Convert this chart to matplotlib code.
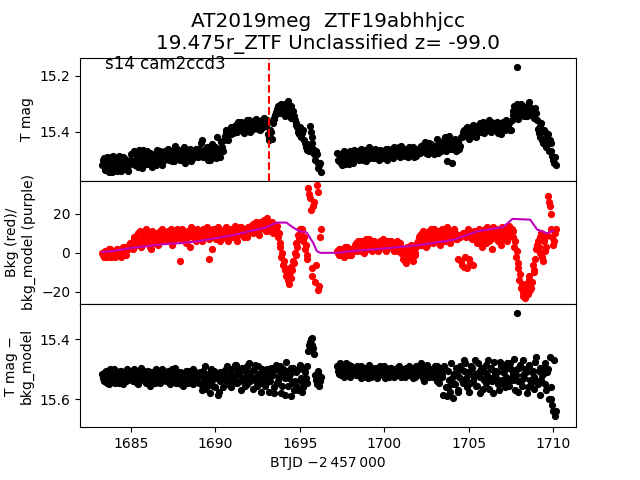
import numpy as np
import matplotlib
matplotlib.use("Agg")
import matplotlib.pyplot as plt

# time span of the two orbits (BTJD - 2457000), regular cadence
t1_start, t1_end = 1683.3, 1696.2
t2_start, t2_end = 1697.2, 1710.1
half_step = 0.05  # second set of cadences sits between the first

# T mag, in millimag above 15.0
top1 = [520, 495, 530, 505, 545, 490, 515, 535, 500, 525, 485, 540, 510, 495, 530, 505, 520,
        480, 510, 470, 500, 525, 485, 505, 465, 495, 515, 490, 475, 510, 500, 480, 520, 495, 470, 505, 490,
        470, 495, 460, 485, 505, 475, 450, 490, 480, 500, 465, 485, 510, 470, 490, 460, 480, 495, 475, 485,
        460, 485, 430, 475, 490, 455, 470, 500, 445, 480, 465, 420, 475, 490, 455,
        430, 405, 420, 395, 410, 390,
        395, 375, 400, 380, 365, 390, 405, 370, 385, 360, 395, 375, 380, 355, 390, 370, 365, 385, 350, 375,
        410, 430, 400,
        370, 350, 330, 310, 335, 300, 320, 345, 315, 290, 330, 350, 325, 360,
        370, 400, 385, 420, 395,
        440, 465, 450,
        380, 420, 460, 500, 480,
        530, 510]
top1b = [500, 535, 490, 525, 510, 545, 485, 520, 540, 495, 515, 530, 490, 525, 505, 540, 500,
         505, 475, 520, 490, 465, 510, 530, 480, 500, 470, 515, 495, 525, 480, 505, 465, 510, 485, 520, 500,
         490, 465, 500, 470, 480, 505, 485, 460, 495, 475, 500, 455, 480, 495, 465, 505, 470, 485, 460, 490,
         475, 440, 490, 465, 480, 500, 460, 485, 470, 455, 495, 480, 460, 435, 470,
         415, 395, 430, 400, 385, 405,
         380, 400, 365, 390, 385, 370, 395, 360, 380, 400, 370, 390, 360, 385, 375, 395, 360, 375, 380, 360,
         420, 395, 425,
         355, 340, 320, 325, 305, 330, 310, 300, 335, 320, 310, 340, 345, 375,
         385, 410, 395, 405, 430,
         455, 445, 470,
         400, 440, 480, 470, 510,
         520, 545]
top2 = [475, 505, 490, 520, 470, 500, 485, 515, 480, 495,
        465, 490, 475, 500, 460, 485, 470, 505, 480, 455, 490, 475, 495, 465, 485, 500, 470, 480, 490, 460,
        460, 480, 470, 495, 455, 475, 465, 485, 450, 470, 480, 460, 490, 465, 475, 455, 470, 485, 460, 475,
        450, 470, 435, 465, 480, 455, 445, 470, 460, 425, 475, 455,
        440, 460, 420, 505, 450, 435, 510, 445, 425, 465, 430, 450,
        420, 395, 410, 385, 425, 400, 390, 415, 380, 405,
        395, 370, 390, 405, 375, 385, 360, 400, 380, 370, 395, 365, 385, 410, 375, 390, 360, 380, 370, 395,
        340, 310, 330, 355, 320, 300, 335, 345, 315, 330, 295, 340, 325, 350, 335,
        390, 420, 370, 440, 400, 455, 410, 430,
        470, 500, 490]
top2b = [500, 480, 510, 490, 515, 485, 505, 470, 500, 510,
         485, 470, 495, 480, 475, 500, 465, 490, 475, 495, 470, 485, 460, 490, 475, 465, 495, 470, 485, 500,
         475, 465, 490, 460, 480, 470, 455, 490, 475, 465, 485, 470, 455, 480, 465, 490, 460, 475, 470, 465,
         465, 445, 475, 455, 440, 470, 460, 480, 450, 465, 440, 470,
         455, 430, 470, 445, 415, 460, 440, 455, 470, 435, 460, 420,
         400, 415, 390, 420, 395, 410, 375, 400, 420, 390,
         380, 400, 365, 385, 375, 395, 380, 365, 390, 375, 380, 405, 370, 380, 365, 395, 385, 375, 395, 360,
         325, 345, 300, 335, 315, 340, 310, 325, 345, 310, 330, 320, 345, 315, 360,
         405, 380, 430, 395, 445, 420, 470, 440,
         485, 510, 520]

# background flux (red), middle panel
bkg1 = [0, -2, 1, -1, 2, -2, 0, 1, -1, 2, 0, -2, 1, 3, -1, 2, 4,
        5, 2, 8, 4, 10, 6, 3, 9, 7, 12, 5, 8, 2, 10, 6, 9, 4, 11, 7, 8,
        9, 6, 11, 8, 4, 10, 7, 12, 9, -4, 8, 11, 6, 10, 8, 3, 11, 9, 7, 12,
        8, 10, 6, 11, 9, 13, 7, 10, 2, 9, 12, 8, 11, 6, 10, 9, 13, 7, 11, 10,
        8, 12, 9, 6, 11, 13, 10, 8, 12, 9,
        11, 14, 10, 13, 16, 12, 9, 14, 13, 17, 11, 15, 12, 14, 10, 13,
        12, 8, 3, -2, -6, -9, -12, -14, -10, -7, -4, 0, 5, 9, 12,
        10, 6, 2, -3,
        33, 28, -8, 24, -15, 35, -19, 8]
bkg1b = [-1, 1, -2, 0, 2, -1, 1, -2, 2, 0, -1, 1, 3, 0, 2, 3, 5,
         3, 7, 5, 9, 6, 11, 4, 8, 10, 6, 9, 3, 11, 7, 5, 10, 8, 6, 12, 9,
         7, 10, 8, 12, 6, 9, 11, 8, 10, 7, 12, 9, 5, 11, 9, 13, 8, 10, 6, 9,
         11, 7, 12, 10, 8, 11, -3, 9, 12, 10, 7, 13, 9, 11, 8, 12, 10, 6, 9, 12,
         11, 14, 8, 10, 13, 9, 12, 11, 8, 13,
         13, 11, 15, 12, 14, 10, 16, 13, 12, 15, 18, 13, 11, 16, 14, 12,
         14, 10, 5, 0, -4, -8, -10, -16, -13, -9, -5, -1, 3, 7, 11,
         12, 8, 4, -1,
         30, 22, -12, 26, -6, 31, -17, 12]
bkg2 = [1, -1, 2, 0, -2, 1, 3, -1, 0, 2,
        2, 5, 1, 4, 6, 3, 0, 5, 2, 7, 4, 1, 6, 3, 5, 2, 4, 7, 3, 1, 5, 4, 6, 2, 3, 5, 1, 4,
        0, -3, 2, -5, 1, -2, 4, -4, 0, 3,
        6, 9, 4, 11, 7, 3, 10, 8, 12, 5, 9, 7, 11, 4, 8, 10, 6, 13, 9, 5, 11, 8, 10, 7,
        -3, 8, -6, 10, -2, -8, 9, -5, 7, 11,
        9, 5, 12, 7, 3, 10, 8, 13, 6, 11, 2, 9, 12, 7, 10, 4, 13, 8, 11, 6, 14, 9,
        8, 3, -2, -8, -14, -18, -22, -20, -16, -21, -12, -18, -6, -10, 2,
        6, 0, 10, -4, 8, 3,
        29, 24, 12, 4, 10]
bkg2b = [0, 2, -1, 1, 3, -1, 1, 2, -1, 1,
         4, 2, 6, 3, 1, 5, 3, 7, 4, 2, 5, 6, 3, 4, 1, 6, 5, 3, 2, 4, 6, 3, 5, 1, 4, 6, 3, 5,
         2, -1, -4, 3, -2, 1, -3, 2, -1, 5,
         8, 5, 10, 7, 9, 4, 11, 6, 9, 12, 7, 10, 5, 8, 12, 9, 7, 10, 6, 11, 9, 12, 7, 9,
         9, -4, 10, -7, 8, 12, -3, 10, -6, 9,
         7, 11, 6, 10, 8, 12, 5, 9, 11, 7, 13, 8, 10, 6, 12, 9, 7, 11, 13, 8, 10, 12,
         11, 6, 1, -5, -11, -16, -20, -23, -18, -14, -19, -15, -9, -3, 4,
         3, 8, -2, 6, 1, 9,
         26, 20, 8, 6, 12]

# background model (purple)
model_t = [1683.3, 1684.0, 1685.0, 1686.0, 1687.0, 1688.0, 1689.0, 1690.0, 1691.0, 1692.0,
           1693.0, 1693.6, 1694.2, 1694.6, 1695.0, 1695.4, 1695.8, 1696.0, 1696.2,
           1697.2, 1698.2, 1700.2, 1702.1, 1704.1, 1705.5, 1707.05, 1707.6, 1708.65,
           1709.05, 1709.65, 1710.0]
model_v = [0.5, 1, 2.5, 3.5, 4.5, 5, 6, 7.5, 9, 11,
           13, 15.5, 15.5, 13, 11, 10.5, 5, 1, 0,
           0, 1, 2.4, 4, 6.7, 11, 13.2, 17.4, 17,
           12, 10, 11.3]

# T mag - bkg_model, millimag above 15.0
det1 = [515, 540, 505, 530, 550, 510, 525, 500, 535, 520, 545, 505, 530, 515, 540, 510, 525,
        510, 540, 505, 525, 550, 515, 495, 530, 520, 545, 505, 525, 540, 510, 530, 500, 525, 545, 515, 530,
        520, 540, 505, 550, 515, 530, 495, 545, 525, 510, 535, 555, 515, 530, 505, 540, 520, 550, 510, 530,
        545, 510, 570, 530, 490, 555, 520, 580, 535, 505, 560, 525, 575, 540, 515,
        505, 540, 490, 525, 560, 500, 530, 485, 545, 515, 570, 495, 535, 510, 550, 480, 525, 565, 500, 540,
        490, 530, 575, 505, 520, 545,
        530, 575, 495, 520, 560, 485, 540, 510, 580, 500, 530, 475, 555, 515, 590, 495, 540, 505, 570, 485,
        530, 560, 510, 545,
        440, 410, 395, 430,
        520, 550, 505, 540]
det1b = [530, 510, 545, 520, 500, 535, 515, 545, 510, 530, 505, 525, 550, 520, 500, 535, 515,
         530, 500, 520, 545, 510, 535, 520, 505, 540, 515, 530, 555, 510, 520, 545, 525, 510, 535, 500, 520,
         535, 510, 525, 540, 500, 520, 545, 510, 530, 550, 515, 525, 505, 545, 520, 535, 500, 525, 540, 515,
         520, 550, 505, 545, 565, 515, 540, 500, 555, 530, 520, 585, 510, 535, 560,
         525, 500, 550, 510, 530, 545, 485, 520, 505, 540, 500, 530, 555, 490, 520, 540, 505, 530, 485, 555,
         515, 545, 500, 535, 555, 500,
         510, 540, 520, 580, 500, 545, 525, 490, 555, 520, 585, 505, 530, 495, 545, 570, 510, 560, 500, 540,
         575, 500, 530, 490,
         420, 400, 420, 450,
         535, 510, 555, 525]
det2 = [490, 515, 480, 505, 525, 495, 510, 485, 520, 500,
        500, 520, 490, 515, 530, 505, 495, 520, 510, 485, 525, 505, 515, 495, 530, 510, 500, 520, 490, 515,
        505, 525, 495, 510, 520, 500, 515, 490, 525, 505, 510, 495, 520, 500, 515, 530, 505, 490, 515,
        505, 480, 530, 495, 520, 515, 505, 500, 525, 490, 540, 510, 495,
        520, 585, 500, 590, 560, 575, 530, 595, 550, 510, 575, 490, 535, 505, 480, 560, 515, 545, 495, 525,
        470, 555, 510, 580, 495, 535, 485, 520, 565, 500, 540, 475, 530, 510, 570, 490, 545, 505, 525, 480,
        555, 500, 535, 465, 520, 575, 495, 540, 470, 530, 510, 560, 485, 545, 505, 525, 460, 550, 495, 535,
        515, 480, 570, 500,
        460, 600, 640, 655]
det2b = [505, 485, 520, 495, 510, 480, 500, 525, 490, 510,
         515, 495, 520, 505, 490, 525, 510, 500, 530, 505, 495, 520, 500, 525, 505, 490, 515, 510, 530, 500,
         520, 495, 510, 525, 505, 495, 520, 510, 500, 515, 525, 505, 490, 520, 510, 500, 525, 515, 500,
         520, 495, 540, 510, 485, 525, 520, 500, 505, 530, 490, 545, 515,
         525, 490, 560, 505, 535, 480, 550, 515, 495, 570, 525, 500, 545, 470, 530, 510, 575, 490, 540, 515,
         555, 480, 525, 500, 565, 510, 545, 470, 530, 495, 580, 515, 505, 550, 475, 535, 510, 560, 495, 545,
         480, 530, 515, 570, 500, 540, 485, 555, 520, 500, 580, 490, 535, 510, 565, 475, 540, 505, 585, 520,
         495, 550, 510, 600,
         560, 620, 470, 640]

# single bright outlier
out_t = [1707.87]
out_top = [15.168]
out_det = [15.313]

t_peak = 1693.2

t1 = np.linspace(t1_start, t1_end, len(top1))
t2 = np.linspace(t2_start, t2_end, len(top2))
t = np.concatenate([t1, t2, t1 + half_step, t2 + half_step])
top = 15.0 + np.array(top1 + top2 + top1b + top2b) / 1000.0
bkg = np.array(bkg1 + bkg2 + bkg1b + bkg2b, dtype=float)
det = 15.0 + np.array(det1 + det2 + det1b + det2b) / 1000.0

fig, (ax1, ax2, ax3) = plt.subplots(3, 1, sharex=True, figsize=(6.4, 4.8), dpi=100)
fig.subplots_adjust(hspace=0)

ms = 4.2
ax1.plot(t, top, 'o', color='k', ms=ms)
ax1.plot(out_t, out_top, 'o', color='k', ms=ms)
ax1.axvline(t_peak, color='r', ls='--', lw=1.5)
ax1.set_ylim(15.575, 15.136)
ax1.set_yticks([15.2, 15.4])
ax1.set_ylabel('T mag')
ax1.text(0.05, 1.025, 's14 cam2ccd3', transform=ax1.transAxes, fontsize=12, va='top', ha='left')
ax1.set_title('AT2019meg  ZTF19abhhjcc\n19.475r_ZTF Unclassified z= -99.0', fontsize=14.4)

ax2.plot(t, bkg, 'o', color='r', ms=ms)
ax2.plot(model_t, model_v, '-', color='m', lw=1.5)
ax2.set_ylim(-26.2, 36.9)
ax2.set_yticks([-20, 0, 20])
ax2.set_ylabel('Bkg (red)/\nbkg_model (purple)')

ax3.plot(t, det, 'o', color='k', ms=ms)
ax3.plot(out_t, out_det, 'o', color='k', ms=ms)
ax3.set_ylim(15.693, 15.283)
ax3.set_yticks([15.4, 15.6])
ax3.set_ylabel('T mag \u2212\nbkg_model')
ax3.set_xlim(1681.98, 1711.36)
ax3.set_xlabel('BTJD \u22122\u2009457\u2009000')

for ax in (ax1, ax2):
    ax.tick_params(axis='x', bottom=False)

fig.savefig('out.png', dpi=100)
